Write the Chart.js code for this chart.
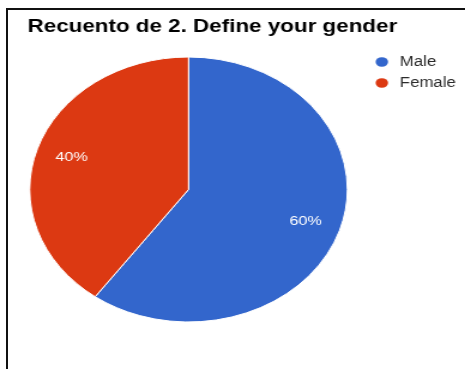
<!DOCTYPE html>
<html>
<head>
<meta charset="utf-8">
<title>Recuento de 2. Define your gender</title>
<script src="https://cdn.jsdelivr.net/npm/chart.js@4.4.1/dist/chart.umd.min.js"></script>
<style>
  html, body { margin: 0; padding: 0; background: #fff; }
  #page { position: relative; width: 465px; height: 369px; overflow: hidden; background: #fff; }
  /* the export is stretched sideways, so the chart is drawn narrow and widened */
  #stretch { position: absolute; left: 0; top: 0; width: 388px; height: 369px;
             transform: scale(1.1985, 1); transform-origin: 0 0; }
  #frame { position: absolute; left: 6px; top: 8px; right: -10px; bottom: -10px;
           border-left: 2px solid #111; border-top: 2px solid #111; }
</style>
</head>
<body>
<div id="page">
  <div id="stretch"><canvas id="genderChart"></canvas></div>
  <div id="frame"></div>
</div>
<script>
const categories = ['Male', 'Female'];
const counts = [60, 40];
const chartTitle = 'Recuento de 2. Define your gender';

const FONT = '"Liberation Sans", Arial, Helvetica, sans-serif';

// title above the pie, left aligned with the plot; drawn here rather than by
// the title plugin so the reserved legend space on the right doesn't squeeze it
const headline = {
  id: 'headline',
  afterDraw(chart) {
    const ctx = chart.ctx;
    ctx.save();
    ctx.font = 'bold 18.7px ' + FONT;
    ctx.fillStyle = '#000000';
    ctx.textAlign = 'left';
    ctx.textBaseline = 'alphabetic';
    ctx.fillText(chartTitle, chart.chartArea.left, 31.7);
    ctx.restore();
  }
};

// percentage written inside each slice, a bit past halfway out
const sliceLabels = {
  id: 'sliceLabels',
  afterDatasetsDraw(chart) {
    const meta = chart.getDatasetMeta(0);
    const values = chart.data.datasets[0].data;
    const total = values.reduce((a, b) => a + b, 0);
    const ctx = chart.ctx;
    ctx.save();
    ctx.font = '13.5px ' + FONT;
    ctx.fillStyle = '#ffffff';
    ctx.textAlign = 'center';
    ctx.textBaseline = 'middle';
    meta.data.forEach((arc, i) => {
      const p = arc.getProps(['x', 'y', 'startAngle', 'endAngle', 'outerRadius'], true);
      const mid = (p.startAngle + p.endAngle) / 2;
      const r = p.outerRadius * 0.775;
      const pct = Math.round(values[i] / total * 100) + '%';
      ctx.fillText(pct, p.x + Math.cos(mid) * r, p.y + Math.sin(mid) * r);
    });
    ctx.restore();
  }
};

// legend to the right of the pie: round swatch then the label
const sideLegend = {
  id: 'sideLegend',
  afterDraw(chart) {
    const ctx = chart.ctx;
    const colors = chart.data.datasets[0].backgroundColor;
    const x0 = chart.chartArea.right + 27;
    let y = chart.chartArea.top + 5.5;
    ctx.save();
    ctx.font = '14px ' + FONT;
    ctx.textAlign = 'left';
    ctx.textBaseline = 'middle';
    chart.data.labels.forEach((label, i) => {
      ctx.beginPath();
      ctx.ellipse(x0, y, 5.2, 4.8, 0, 0, Math.PI * 2);
      ctx.fillStyle = colors[i];
      ctx.fill();
      ctx.fillStyle = '#2b2b2b';
      ctx.fillText(label, x0 + 15, y);
      y += 21;
    });
    ctx.restore();
  }
};

new Chart(document.getElementById('genderChart'), {
  type: 'pie',
  data: {
    labels: categories,
    datasets: [{
      data: counts,
      backgroundColor: ['#3366cc', '#dc3912'],
      borderColor: '#ffffff',
      borderWidth: 1
    }]
  },
  options: {
    responsive: true,
    maintainAspectRatio: false,
    animation: false,
    layout: { padding: { left: 23, top: 56.5, right: 96.4, bottom: 46.5 } },
    plugins: {
      legend: { display: false },
      tooltip: { enabled: false },
      title: { display: false }
    }
  },
  plugins: [sliceLabels, sideLegend, headline]
});
</script>
</body>
</html>
